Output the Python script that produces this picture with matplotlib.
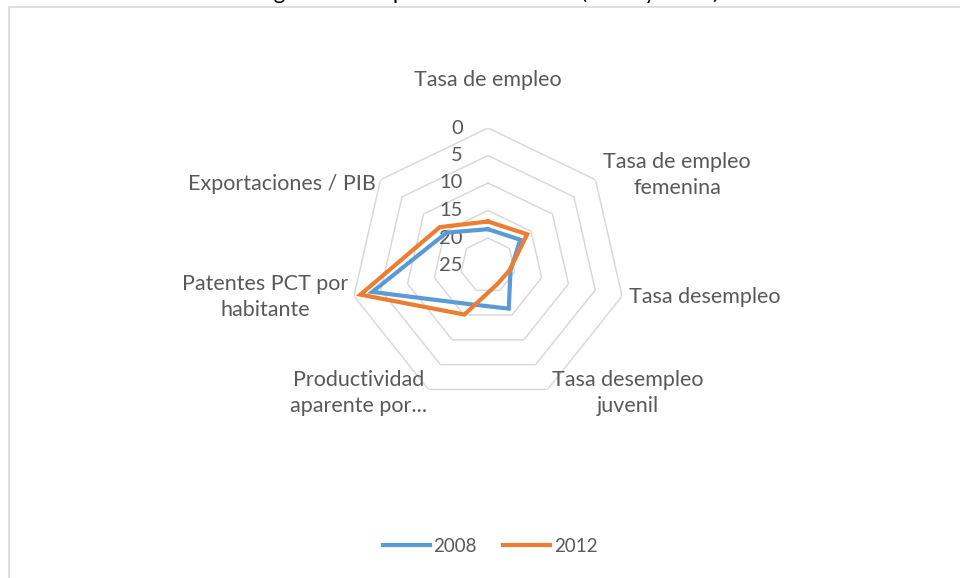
import numpy as np
import matplotlib
matplotlib.use('Agg')
import matplotlib.pyplot as plt
from matplotlib.patches import Rectangle
from matplotlib.lines import Line2D

plt.rcParams['font.family'] = ['Lato', 'DejaVu Sans']

# datos (escala invertida: 0 fuera, 25 en el centro)
categorias = ['Tasa de empleo', 'Tasa de empleo\nfemenina', 'Tasa desempleo',
              'Tasa desempleo\njuvenil', 'Productividad\naparente por...',
              'Patentes PCT por\nhabitante', 'Exportaciones / PIB']
valores_2008 = [18.4, 17.5, 20.8, 16.3, 17.2, 3.4, 15.4]
valores_2012 = [17.0, 15.9, 21.0, 21.2, 15.1, 1.2, 13.8]
ticks = [0, 5, 10, 15, 20, 25]
eje_max = 25
titulo = 'Región en comparación con la UE (2008 y 2012)'

gris_texto = '#595959'
gris_rejilla = '#d9d9d9'
azul = '#5b9bd5'
naranja = '#ed7d31'

W, H = 960, 578
fig = plt.figure(figsize=(W / 100, H / 100), dpi=100)

# marco del area del grafico
fig.patches.append(Rectangle((9 / W, -0.01), 1.2, 1 - 7 / H + 0.01, transform=fig.transFigure,
                             fill=False, ec=gris_rejilla, lw=1.2))

# titulo (queda casi cortado arriba, como en el original)
fig.text(484 / W, 1 + 1.0 / H, titulo, ha='center', va='baseline', fontsize=16, color='#000000')

cx, cy, rad = 488, 265.5, 137.5
ax = fig.add_axes([(cx - rad) / W, (H - cy - rad) / H, 2 * rad / W, 2 * rad / H], projection='polar')
ax.set_theta_zero_location('N')
ax.set_theta_direction(-1)
ax.set_ylim(0, eje_max)
ax.set_xticks([])
ax.set_yticks([])
ax.grid(False)
ax.spines['polar'].set_visible(False)
ax.patch.set_alpha(0)

n = len(categorias)
theta = np.arange(n) * 2 * np.pi / n
theta_c = np.append(theta, theta[0])

# rejilla poligonal
for t in ticks[:-1]:
    ax.plot(theta_c, [eje_max - t] * (n + 1), color=gris_rejilla, lw=1.1, zorder=1)

# etiquetas del eje
for t in ticks:
    ax.annotate(str(t), xy=(0, eje_max - t), xytext=(-18, 0), textcoords='offset points',
                ha='right', va='center', fontsize=14.5, color=gris_texto, zorder=2)

# series
for vals, col in [(valores_2008, azul), (valores_2012, naranja)]:
    r = eje_max - np.array(vals + vals[:1])
    ax.plot(theta_c, r, color=col, lw=3, zorder=3, solid_joinstyle='miter')

# etiquetas de categorias
pos_etiquetas = [(488, 80), (677, 175), (705, 297), (628, 393), (359, 393), (265, 297), (282, 184)]
for txt, (x, y) in zip(categorias, pos_etiquetas):
    fig.text(x / W, 1 - y / H, txt, ha='center', va='center', multialignment='center',
             fontsize=15.5, color=gris_texto, linespacing=1.4)

# leyenda
handles = [Line2D([], [], color=azul, lw=3), Line2D([], [], color=naranja, lw=3)]
fig.legend(handles, ['2008', '2012'], loc='center', bbox_to_anchor=(490 / W, 1 - 546 / H),
           ncol=2, frameon=False, fontsize=13.5, labelcolor=gris_texto,
           handlelength=2.5, handletextpad=0.2, columnspacing=1.4)

fig.savefig('out.png', dpi=100)
